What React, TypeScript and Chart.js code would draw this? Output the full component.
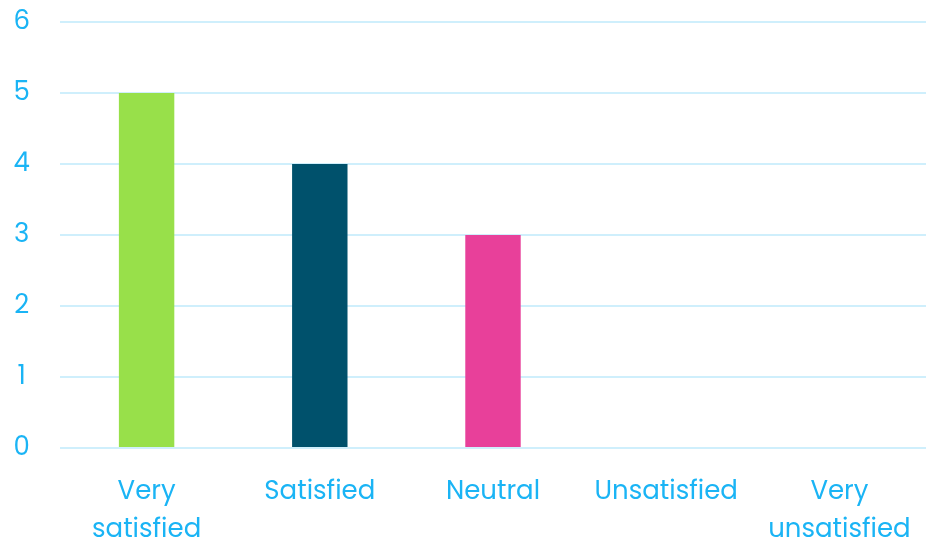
import React, { useEffect, useRef } from "react";
import { Chart, registerables } from "chart.js";

Chart.register(...registerables);

const categories: (string | string[])[] = [
  ["Very", "satisfied"],
  "Satisfied",
  "Neutral",
  "Unsatisfied",
  ["Very", "unsatisfied"],
];
const values = [5, 4, 3, 0, 0];
const barColors = ["#98E04A", "#00516C", "#E8409A", "#1AB4F5", "#1AB4F5"];
const yTicks = [0, 1, 2, 3, 4, 5, 6];

const textColor = "#1AB4F5";
const gridColor = "#CFEFFC";
const fontFamily = "Poppins, 'Open Sans', sans-serif";

export default function App() {
  const ref = useRef<HTMLCanvasElement>(null);
  useEffect(() => {
    if (!ref.current) return;
    const chart = new Chart(ref.current, {
      type: "bar",
      data: {
        labels: categories,
        datasets: [
          {
            data: values,
            backgroundColor: barColors,
            barPercentage: 0.64,
            categoryPercentage: 0.5,
          },
        ],
      },
      options: {
        animation: false,
        responsive: true,
        maintainAspectRatio: false,
        layout: { padding: 0 },
        plugins: { legend: { display: false }, tooltip: { enabled: false } },
        scales: {
          x: {
            grid: { display: false, drawTicks: false },
            border: { display: false },
            afterFit: (axis: any) => {
              axis.height = 98;
              axis.paddingRight = 4;
              axis.paddingLeft = 0;
            },
            ticks: {
              color: textColor,
              font: { family: fontFamily, size: 26, lineHeight: 1.48 },
              padding: 25,
              maxRotation: 0,
              autoSkip: false,
            },
          },
          y: {
            min: 0,
            max: 6,
            afterBuildTicks: (axis: any) => {
              axis.ticks = yTicks.map((v) => ({ value: v }));
            },
            afterFit: (axis: any) => {
              axis.width = 60;
              axis.paddingTop = 22;
              axis.paddingBottom = 0;
            },
            grid: { color: gridColor, lineWidth: 2, drawTicks: false },
            border: { display: false },
            ticks: {
              color: textColor,
              font: { family: fontFamily, size: 26 },
              padding: 30,
              crossAlign: "center",
            },
          },
        },
      },
    });
    return () => chart.destroy();
  }, []);
  return (
    <div style={{ position: "fixed", left: 0, top: 0, width: 930, height: 546, background: "#fff" }}>
      <canvas ref={ref} />
    </div>
  );
}
